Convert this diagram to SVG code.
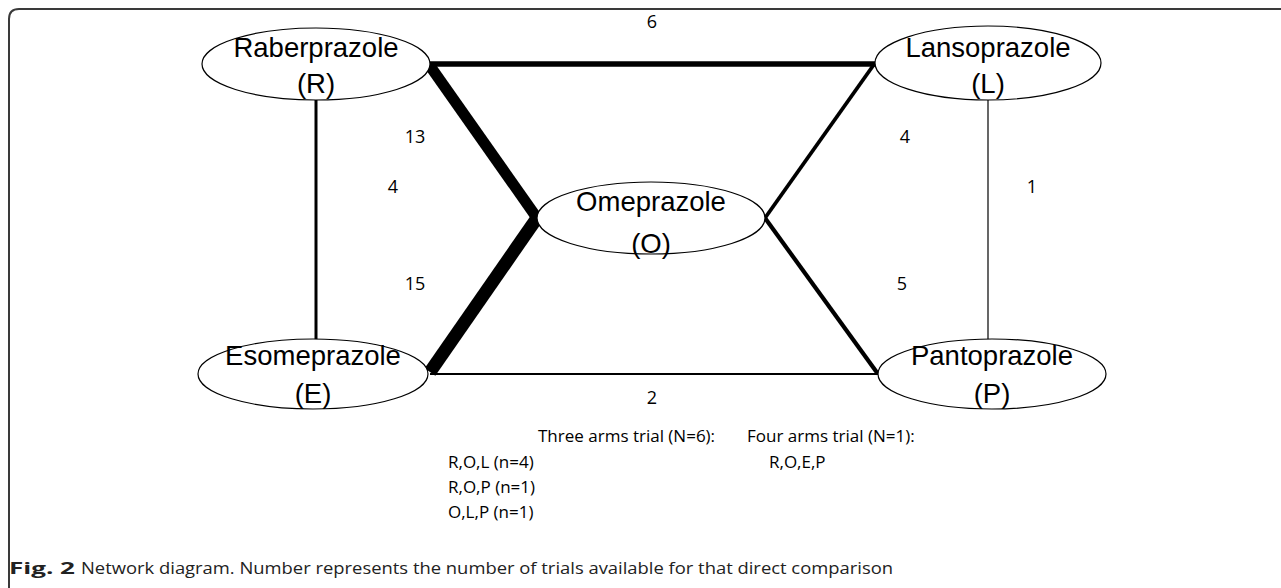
<svg xmlns="http://www.w3.org/2000/svg" width="1281" height="588" viewBox="0 0 1281 588">
<style>
.frame{fill:none;stroke:#3a3a3a;stroke-width:2}
.node ellipse{fill:#fff;stroke:#000;stroke-width:1.2}
.node text{font-family:"Liberation Sans",Arial,sans-serif;font-size:27.5px;fill:#000;text-anchor:middle}
.edge{stroke:#000;stroke-linecap:butt;fill:none}
.num{font-family:"Open Sans","Liberation Sans",sans-serif;font-size:18px;fill:#000;text-anchor:middle}
.note{font-family:"Open Sans","Liberation Sans",sans-serif;font-size:17px;fill:#000}
.cap{font-family:"Open Sans","Liberation Sans",sans-serif;font-size:16px;fill:#222}
</style>
<rect width="1281" height="588" fill="#fff"/>
<path class="frame" d="M9,588 V19 Q9,9 19,9 H1281"/>
<g id="connectors">
<line class="edge" x1="430" y1="64" x2="875" y2="64" stroke-width="5.5"/>
<line class="edge" x1="430" y1="66" x2="537" y2="218" stroke-width="11"/>
<line class="edge" x1="430" y1="372" x2="537" y2="218" stroke-width="13"/>
<line class="edge" x1="765" y1="218" x2="875" y2="63" stroke-width="3.8"/>
<line class="edge" x1="765" y1="218" x2="878" y2="374" stroke-width="4.2"/>
<line class="edge" x1="430" y1="374" x2="878" y2="374" stroke-width="2"/>
<line class="edge" x1="316" y1="100" x2="316" y2="342" stroke-width="3"/>
<line class="edge" x1="988" y1="100" x2="988" y2="340" stroke-width="1.2"/>
<text class="num" x="652" y="28">6</text>
<text class="num" x="415" y="143">13</text>
<text class="num" x="393" y="193">4</text>
<text class="num" x="415" y="290">15</text>
<text class="num" x="905" y="143">4</text>
<text class="num" x="1032" y="193">1</text>
<text class="num" x="902" y="290">5</text>
<text class="num" x="652" y="404">2</text>
</g>
<g id="node-R" class="node">
<ellipse cx="316" cy="64" rx="114" ry="36"/>
<text x="316" y="57">Raberprazole</text>
<text x="316" y="93">(R)</text>
</g>
<g id="node-L" class="node">
<ellipse cx="988" cy="63" rx="113" ry="37"/>
<text x="988" y="57">Lansoprazole</text>
<text x="988" y="93">(L)</text>
</g>
<g id="node-O" class="node">
<ellipse cx="651" cy="218" rx="114" ry="36"/>
<text x="651" y="211">Omeprazole</text>
<text x="651" y="253">(O)</text>
</g>
<g id="node-E" class="node">
<ellipse cx="313" cy="374" rx="115" ry="35"/>
<text x="313" y="365">Esomeprazole</text>
<text x="313" y="403">(E)</text>
</g>
<g id="node-P" class="node">
<ellipse cx="992" cy="374" rx="114" ry="35"/>
<text x="992" y="365">Pantoprazole</text>
<text x="992" y="403">(P)</text>
</g>
<g id="notes">
<text class="note" x="538" y="442">Three arms trial (N=6):</text>
<text class="note" x="448" y="468">R,O,L (n=4)</text>
<text class="note" x="448" y="493">R,O,P (n=1)</text>
<text class="note" x="448" y="518">O,L,P (n=1)</text>
<text class="note" x="747" y="442">Four arms trial (N=1):</text>
<text class="note" x="769" y="468">R,O,E,P</text>
</g>
<g id="caption">
<text class="cap" x="9" y="574" font-weight="bold" textLength="66" lengthAdjust="spacingAndGlyphs">Fig. 2</text>
<text class="cap" x="81" y="574" textLength="812" lengthAdjust="spacingAndGlyphs">Network diagram. Number represents the number of trials available for that direct comparison</text>
</g>
</svg>
